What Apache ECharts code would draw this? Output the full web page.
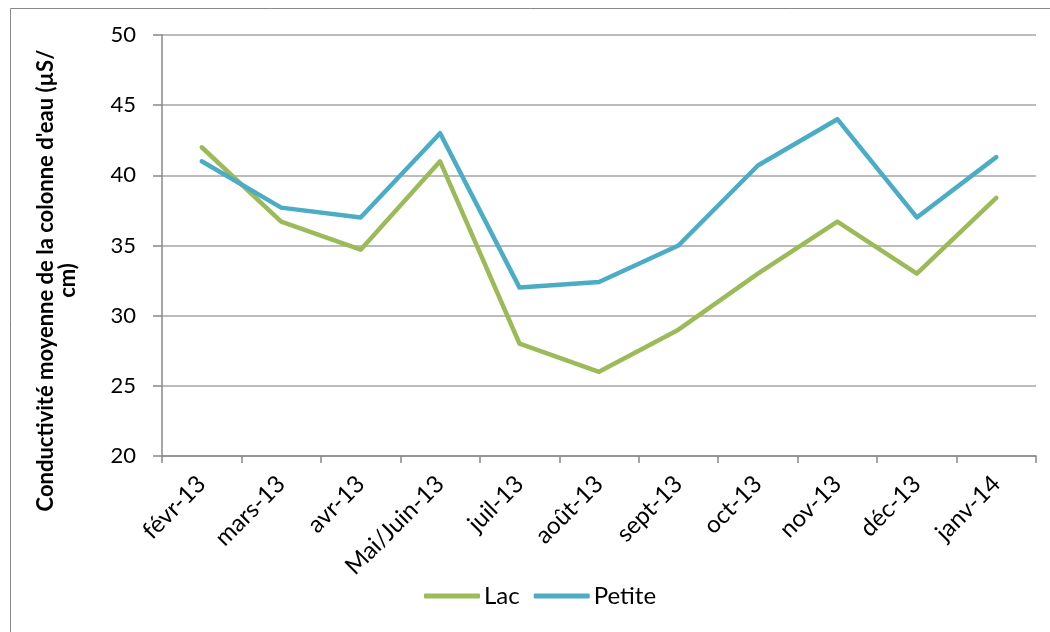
<!DOCTYPE html>
<html><head><meta charset="utf-8">
<script src="https://cdn.jsdelivr.net/npm/echarts@6/dist/echarts.min.js"></script>
<style>html,body{margin:0;padding:0;background:#fff}#c{width:1050px;height:632px}</style>
</head><body><div id="c"></div>
<script>
const categories = ['févr-13','mars-13','avr-13','Mai/Juin-13','juil-13','août-13','sept-13','oct-13','nov-13','déc-13','janv-14'];
const lac = [42, 36.7, 34.7, 41, 28, 26, 29, 33, 36.7, 33, 38.4];
const petite = [41, 37.7, 37, 43, 32, 32.4, 35, 40.7, 44, 37, 41.3];
const yTitle = "Conductivité moyenne de la colonne d'eau (µS/\ncm)";
const FONT = 'Lato, "Open Sans", sans-serif';

const chart = echarts.init(document.getElementById('c'), null, {renderer:'canvas'});
chart.setOption({
  animation: false,
  textStyle: {fontFamily: FONT},
  graphic: [{type:'rect', shape:{x:10.5, y:8.5, width:1100, height:700}, style:{fill:'none', stroke:'#898989', lineWidth:1}, silent:true}],
  grid: {left:162, right:14, top:35, bottom:176, containLabel:false, outerBoundsMode:'none'},
  legend: {
    left: 419, top: 579, itemWidth: 56, itemHeight: 5, itemGap: 14,
    icon: 'roundRect',
    textStyle: {fontFamily: FONT, fontSize: 24, color:'#000', padding:[0,0,0,-1]},
    data: ['Lac','Petite']
  },
  xAxis: {
    type:'category', data: categories, boundaryGap: true,
    axisLine:{lineStyle:{color:'#888', width:1.5}},
    axisTick:{show:true, length:7, alignWithLabel:false, lineStyle:{color:'#888', width:1.5}},
    axisLabel:{rotate:45, fontSize:24, color:'#000', margin:24, interval:0, fontFamily: FONT}
  },
  yAxis: {
    type:'value', min:20, max:50, interval:5,
    name: yTitle, nameLocation:'middle', nameGap:83,
    nameTextStyle:{fontSize:22, fontWeight:'bold', color:'#000', lineHeight:22, fontFamily: FONT, padding:[0,70,0,0]},
    axisLine:{show:true, lineStyle:{color:'#888', width:1.5}},
    axisTick:{show:true, length:9, lineStyle:{color:'#888', width:1.5}},
    splitLine:{lineStyle:{color:'#a6a6a6', width:1.5}},
    axisLabel:{fontSize:22, color:'#000', margin:26, fontFamily: FONT}
  },
  series: [
    {name:'Lac', type:'line', data: lac, symbol:'none', lineStyle:{width:4.5, color:'#9BBB59', cap:'round', join:'round'}, itemStyle:{color:'#9BBB59'}},
    {name:'Petite', type:'line', data: petite, symbol:'none', lineStyle:{width:4.5, color:'#4BACC6', cap:'round', join:'round'}, itemStyle:{color:'#4BACC6'}}
  ]
});
</script></body></html>
